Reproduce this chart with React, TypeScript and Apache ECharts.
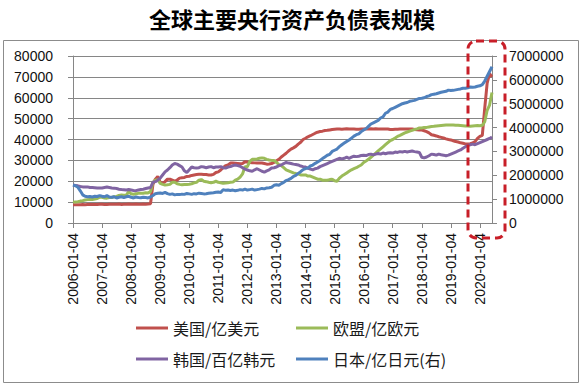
import React, { useEffect, useRef } from "react";
import * as echarts from "echarts";

const TITLE = "全球主要央行资产负债表规模";
const START_YEAR = 2006;
const MONTH_COUNT = 174;
const categories: string[] = Array.from({ length: MONTH_COUNT }, (_, i) =>
  `${START_YEAR + Math.floor(i / 12)}-${String((i % 12) + 1).padStart(2, "0")}-04`
);

const seriesNames = ["美国/亿美元", "欧盟/亿欧元", "韩国/百亿韩元", "日本/亿日元(右)"];

const usValues = [
  8700, 8720, 8750, 8800, 8820, 8800, 8830, 8850, 8870, 8880, 8900, 8950,
  8950, 8900, 8920, 8950, 8980, 9000, 9000, 9050, 8900, 8950, 9000, 9100,
  9000, 9000, 9050, 9000, 9000, 9050, 9000, 9100, 9200, 18500, 21000, 22300,
  19500, 19000, 19800, 21000, 21000, 20500, 20000, 20600, 21500, 21700, 21800, 22300,
  22400, 22800, 23000, 23200, 23300, 23300, 23200, 23200, 23000, 23000, 23300, 24200,
  24500, 25400, 26500, 27500, 27800, 28700, 28700, 28600, 28500, 28400, 28500, 29300,
  29200, 29000, 28900, 28800, 28700, 28700, 28700, 28500, 28200, 28300, 28500, 29000,
  29800, 30500, 31600, 32500, 33400, 34500, 35400, 36000, 36700, 37800, 38700, 40000,
  40600, 41300, 41800, 42400, 43000, 43500, 43800, 44000, 44300, 44400, 44600, 44800,
  44900, 45000, 45000, 44900, 45000, 45100, 45000, 45000, 45000, 44900, 44900, 45000,
  45000, 45100, 45000, 45100, 45000, 45100, 45000, 45000, 45000, 45000, 45000, 44800,
  44800, 44900, 44900, 45000, 45000, 45000, 45000, 45000, 45000, 44800, 44700, 44600,
  44500, 44200, 43800, 43200, 42300, 42000, 41700, 41300, 41000, 40700, 40300, 40000,
  39800, 39400, 39000, 38800, 38400, 38200, 37900, 37800, 38000, 38300, 39000, 40500,
  41500, 42000, 55000, 67000, 71500, 70000,
];

const euValues = [
  10000, 10100, 10200, 10500, 10700, 11000, 11200, 11300, 11300, 11500, 11700, 12400,
  12300, 12000, 11900, 12200, 12200, 12600, 12700, 13200, 13400, 13300, 13400, 15000,
  14000, 13800, 14000, 14200, 14200, 14300, 14500, 14400, 15000, 19500, 20500, 20800,
  19000, 18500, 18200, 18300, 18500, 19500, 19500, 18800, 18500, 18300, 18400, 18500,
  18600, 18800, 19200, 19500, 20500, 20800, 20000, 19800, 19500, 19300, 19500, 20000,
  19500, 19300, 19000, 19200, 19300, 19500, 19600, 20500, 21000, 22000, 23500, 27000,
  27000, 29500, 30500, 30500, 30700, 31000, 31200, 31000, 30500, 30200, 30000, 30000,
  29000, 28000, 27500, 26500, 25500, 25000, 24500, 24000, 23700, 23500, 23000, 23000,
  23000, 22500, 22500, 22000, 21500, 21000, 21000, 20500, 20500, 20500, 20800, 21000,
  20200, 20000, 21500, 22500, 23200, 24000, 24800, 25500, 26000, 26500, 27200, 27800,
  29000, 29700, 30500, 31500, 32500, 33500, 34500, 35500, 36500, 37500, 38500, 39500,
  40000, 40700, 41500, 42000, 42600, 43200, 43600, 44000, 44400, 44800, 45100, 45500,
  45500, 45700, 45800, 46000, 46200, 46300, 46500, 46600, 46700, 46800, 46900, 47000,
  47000, 46900, 46800, 46800, 46700, 46600, 46500, 46500, 46400, 46500, 46600, 46700,
  46600, 46800, 48500, 54000, 56500, 62500,
];

const krValues = [
  18200, 18000, 17800, 17500, 17300, 17200, 17300, 17000, 17000, 16900, 16800, 16800,
  16800, 17000, 17200, 17000, 16800, 16700, 16500, 16200, 16000, 15900, 15800, 16000,
  15800, 15600, 15500, 15800, 16000, 16200, 16500, 16800, 17000, 19500, 19800, 20500,
  21500, 23000, 24500, 25400, 26500, 27800, 28500, 28200, 27500, 26800, 25000, 24200,
  25500, 26800, 26500, 26300, 26500, 27000, 26800, 26500, 26800, 27000, 26500, 26800,
  26800, 27000, 26500, 26300, 26800, 27000, 27500, 27800, 27500, 27200, 26500, 25800,
  25400, 25000, 24800, 25500, 26000, 25400, 24800, 24400, 25000, 25500, 26300, 26500,
  26800, 27500, 27800, 28500, 29000, 28700, 28500, 28200, 28000, 27800, 27300, 27000,
  26800, 26300, 25800, 25500, 26000, 26300, 27000, 27500, 28000, 28500, 29000, 29500,
  30000, 30500, 31000, 30700, 31000, 31500, 31000, 31500, 32000, 31800, 32000, 32300,
  32500, 32300, 32800, 33000, 32600, 33000, 33300, 33000, 33500, 33200, 33500, 33700,
  33500, 34000, 33800, 34200, 34000, 34300, 34000, 34300, 34500, 34200, 34000, 33800,
  31500, 31200, 31600, 32200, 33000, 32800, 32500, 33000, 32700, 32500, 32200, 32500,
  33000, 33500, 34000, 34500, 35000, 35800, 36500, 37200, 37500, 37800, 37500, 38000,
  38500, 39000, 39500, 40000, 40500, 41200,
];

const jpValues = [
  1590000, 1560000, 1500000, 1350000, 1180000, 1120000, 1100000, 1110000, 1090000, 1120000, 1110000, 1150000,
  1120000, 1100000, 1150000, 1090000, 1080000, 1100000, 1050000, 1080000, 1100000, 1070000, 1100000, 1120000,
  1080000, 1050000, 1090000, 1070000, 1060000, 1080000, 1070000, 1050000, 1090000, 1150000, 1230000, 1250000,
  1260000, 1240000, 1280000, 1230000, 1200000, 1220000, 1180000, 1200000, 1190000, 1210000, 1200000, 1240000,
  1220000, 1200000, 1230000, 1220000, 1250000, 1240000, 1220000, 1230000, 1250000, 1260000, 1270000, 1290000,
  1300000, 1280000, 1400000, 1370000, 1380000, 1360000, 1380000, 1350000, 1370000, 1400000, 1380000, 1420000,
  1380000, 1400000, 1420000, 1380000, 1400000, 1420000, 1450000, 1430000, 1470000, 1480000, 1500000, 1580000,
  1600000, 1580000, 1650000, 1700000, 1780000, 1820000, 1870000, 1950000, 2000000, 2080000, 2150000, 2240000,
  2280000, 2300000, 2390000, 2430000, 2500000, 2560000, 2620000, 2700000, 2770000, 2840000, 2880000, 3000000,
  3050000, 3100000, 3200000, 3280000, 3350000, 3420000, 3480000, 3560000, 3640000, 3700000, 3740000, 3830000,
  3900000, 3950000, 4050000, 4150000, 4200000, 4250000, 4300000, 4400000, 4450000, 4600000, 4650000, 4760000,
  4800000, 4850000, 4900000, 4950000, 5000000, 5030000, 5050000, 5100000, 5120000, 5140000, 5180000, 5220000,
  5230000, 5250000, 5300000, 5330000, 5380000, 5400000, 5420000, 5450000, 5480000, 5500000, 5520000, 5570000,
  5550000, 5560000, 5580000, 5600000, 5620000, 5650000, 5650000, 5670000, 5700000, 5690000, 5700000, 5730000,
  5750000, 5800000, 5950000, 6150000, 6350000, 6550000,
];

const colors = ["#C0504D", "#9BBB59", "#8064A2", "#4F81BD"];
const CJK = '"Noto Sans CJK SC", "Liberation Sans", sans-serif';
const LATIN = '"Liberation Sans", Arial, sans-serif';
const AXIS_GREY = "#868686";

export default function App() {
  const ref = useRef<HTMLDivElement>(null);
  useEffect(() => {
    if (!ref.current) return;
    const chart = echarts.init(ref.current, null, { renderer: "svg" });
    const values = [usValues, euValues, krValues, jpValues];
    const legendPos = [
      { left: 131, top: 315 },
      { left: 291, top: 315 },
      { left: 131, top: 346 },
      { left: 291, top: 346 },
    ];
    const plain = (v: number) => String(v);
    chart.setOption({
      animation: false,
      backgroundColor: "#ffffff",
      title: {
        text: TITLE,
        left: "center",
        top: 2,
        textStyle: { fontSize: 22, fontWeight: "bold", color: "#000", fontFamily: CJK },
      },
      legend: seriesNames.map((n, i) => ({
        data: [n],
        left: legendPos[i].left,
        top: legendPos[i].top,
        icon: "rect",
        itemWidth: 32,
        itemHeight: 3,
        selectedMode: false,
        textStyle: { fontSize: 16, color: "#1a1a1a", fontFamily: CJK },
      })),
      grid: { left: 73, right: 92, top: 56, bottom: 162 },
      xAxis: {
        type: "category",
        data: categories,
        boundaryGap: false,
        axisLine: { lineStyle: { color: AXIS_GREY } },
        axisTick: { interval: 11, length: 5, lineStyle: { color: AXIS_GREY } },
        axisLabel: { interval: 11, rotate: 90, margin: 10, fontSize: 14, color: "#111", fontFamily: LATIN },
      },
      yAxis: [
        {
          type: "value",
          min: 0,
          max: 80000,
          interval: 10000,
          axisLine: { show: true, lineStyle: { color: AXIS_GREY } },
          axisTick: { show: true, length: 5, lineStyle: { color: AXIS_GREY } },
          axisLabel: { margin: 20, fontSize: 14, color: "#111", fontFamily: LATIN, formatter: plain },
          splitLine: { show: true, lineStyle: { color: AXIS_GREY, width: 1 } },
        },
        {
          type: "value",
          position: "right",
          min: 0,
          max: 7000000,
          interval: 1000000,
          axisLine: { show: true, lineStyle: { color: AXIS_GREY } },
          axisTick: { show: true, length: 5, lineStyle: { color: AXIS_GREY } },
          axisLabel: { margin: 17, fontSize: 14, color: "#111", fontFamily: LATIN, formatter: plain },
          splitLine: { show: false },
        },
      ],
      series: seriesNames.map((n, i) => ({
        name: n,
        type: "line",
        yAxisIndex: i === 3 ? 1 : 0,
        data: values[i],
        symbol: "none",
        showSymbol: false,
        color: colors[i],
        lineStyle: { width: 3, color: colors[i] },
        z: 2 + i,
      })),
      graphic: [
        {
          type: "rect",
          z: -1,
          silent: true,
          shape: { x: 3.5, y: 40.5, width: 575, height: 342 },
          style: { fill: "none", stroke: "#8c8c8c", lineWidth: 1 },
        },
        {
          type: "rect",
          z: 100,
          silent: true,
          shape: { x: 468, y: 41, width: 37, height: 197, r: 8 },
          style: { fill: "none", stroke: "#C81E28", lineWidth: 3, lineDash: [8, 5] },
        },
      ],
    });
    return () => chart.dispose();
  }, []);
  return (
    <div
      ref={ref}
      style={{ position: "fixed", left: 0, top: 0, width: 584, height: 385, background: "#fff" }}
    />
  );
}
